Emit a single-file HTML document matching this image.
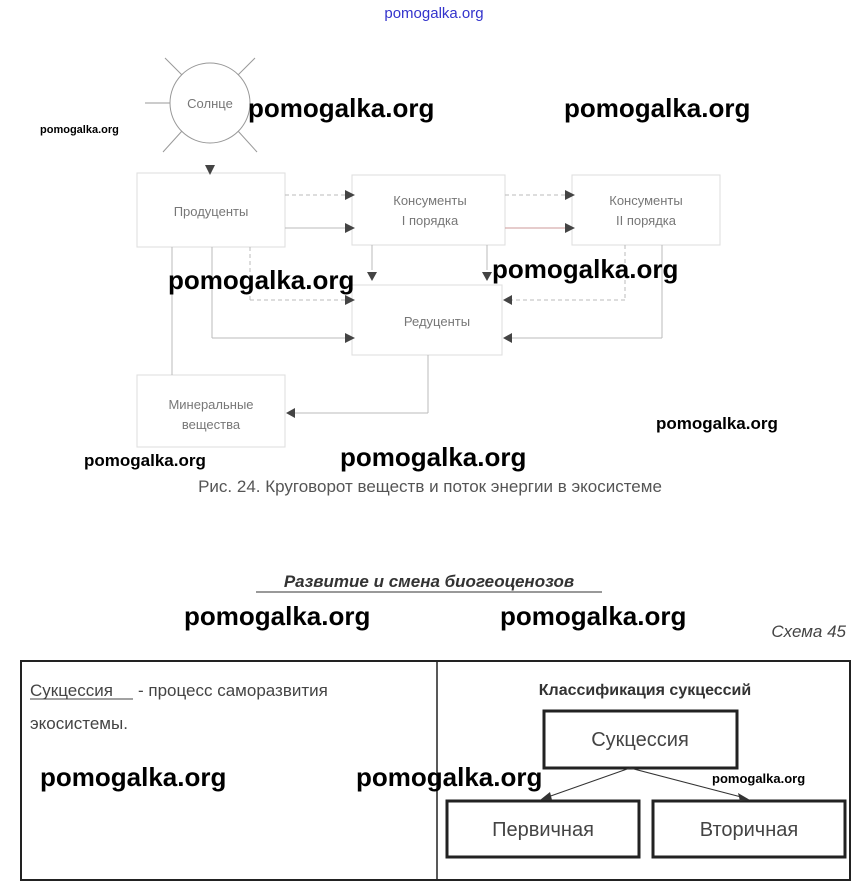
<!DOCTYPE html>
<html><head><meta charset="utf-8"><style>
body{margin:0;width:867px;height:889px;background:#fff;overflow:hidden;position:relative;font-family:"Liberation Sans",sans-serif}
.w{position:absolute;font-family:"Liberation Sans",sans-serif;font-weight:bold;color:#000;white-space:nowrap}
.b{font-size:26px}
.s{font-size:11px}
</style></head><body>
<svg width="867" height="889" style="position:absolute;left:0;top:0" font-family="Liberation Sans, sans-serif">
<g stroke="#999" stroke-width="1" fill="none">
<circle cx="210" cy="103" r="40"/>
<line x1="145" y1="103" x2="170" y2="103"/>
<line x1="165" y1="58" x2="182" y2="75"/><line x1="255" y1="58" x2="238" y2="75"/>
<line x1="163" y1="152" x2="182" y2="131"/><line x1="257" y1="152" x2="238" y2="131"/>
</g>
<g stroke="#ddd" fill="none">
<rect x="137" y="173" width="148" height="74"/>
<rect x="352" y="175" width="153" height="70"/>
<rect x="572" y="175" width="148" height="70"/>
<rect x="352" y="285" width="150" height="70"/>
<rect x="137" y="375" width="148" height="72"/>
</g>
<g stroke="#bbb" fill="none">
<line x1="285" y1="195" x2="345" y2="195" stroke-dasharray="4,3"/>
<line x1="285" y1="228" x2="345" y2="228"/>
<line x1="505" y1="195" x2="565" y2="195" stroke-dasharray="4,3"/>
<line x1="505" y1="228" x2="565" y2="228" stroke="#c99"/>
<line x1="250" y1="247" x2="250" y2="300" stroke-dasharray="4,3"/><line x1="250" y1="300" x2="345" y2="300" stroke-dasharray="4,3"/>
<line x1="212" y1="247" x2="212" y2="338"/><line x1="212" y1="338" x2="345" y2="338"/>
<line x1="172" y1="247" x2="172" y2="375"/>
<line x1="372" y1="245" x2="372" y2="270"/><line x1="487" y1="245" x2="487" y2="270"/>
<line x1="625" y1="245" x2="625" y2="300" stroke-dasharray="4,3"/><line x1="625" y1="300" x2="510" y2="300" stroke-dasharray="4,3"/>
<line x1="662" y1="245" x2="662" y2="338"/><line x1="662" y1="338" x2="510" y2="338"/>
<line x1="428" y1="355" x2="428" y2="413"/><line x1="428" y1="413" x2="293" y2="413"/>
</g>
<g fill="#444">
<polygon points="205,165 215,165 210,175"/>
<polygon points="345,190 355,195 345,200"/><polygon points="345,223 355,228 345,233"/>
<polygon points="565,190 575,195 565,200"/><polygon points="565,223 575,228 565,233"/>
<polygon points="345,295 355,300 345,305"/><polygon points="345,333 355,338 345,343"/>
<polygon points="367,272 377,272 372,281"/><polygon points="482,272 492,272 487,281"/>
<polygon points="512,295 503,300 512,305"/><polygon points="512,333 503,338 512,343"/>
<polygon points="295,408 286,413 295,418"/>
</g>
<g fill="#777" font-size="13" text-anchor="middle">
<text x="210" y="108">Солнце</text>
<text x="211" y="216">Продуценты</text>
<text x="430" y="205">Консументы</text><text x="430" y="225">I порядка</text>
<text x="646" y="205">Консументы</text><text x="646" y="225">II порядка</text>
<text x="437" y="326">Редуценты</text>
<text x="211" y="409">Минеральные</text><text x="211" y="429">вещества</text>
</g>
<text x="430" y="492" font-size="17" fill="#555" text-anchor="middle">Рис. 24. Круговорот веществ и поток энергии в экосистеме</text>
<text x="429" y="587" font-size="17" fill="#333" font-weight="bold" font-style="italic" text-anchor="middle">Развитие и смена биогеоценозов</text>
<line x1="256" y1="592" x2="602" y2="592" stroke="#333"/>
<text x="846" y="637" font-size="17" fill="#444" font-style="italic" text-anchor="end">Схема 45</text>
<rect x="21" y="661" width="829" height="219" fill="none" stroke="#222" stroke-width="2"/>
<line x1="437" y1="661" x2="437" y2="880" stroke="#222" stroke-width="1.5"/>
<text x="30" y="696" font-size="17" fill="#444">Сукцессия</text>
<text x="138" y="696" font-size="17" fill="#444">- процесс саморазвития</text>
<line x1="30" y1="699" x2="133" y2="699" stroke="#444"/>
<text x="30" y="729" font-size="17" fill="#444">экосистемы.</text>
<text x="645" y="695" font-size="16" fill="#333" font-weight="bold" text-anchor="middle">Классификация сукцессий</text>
<g fill="none" stroke="#222" stroke-width="3">
<rect x="544" y="711" width="193" height="57"/>
<rect x="447" y="801" width="192" height="56"/>
<rect x="653" y="801" width="192" height="56"/>
</g>
<g stroke="#333" stroke-width="1">
<line x1="630" y1="768" x2="545" y2="798"/><line x1="630" y1="768" x2="745" y2="798"/>
</g>
<polygon points="540,800 550,792 552,800" fill="#333"/><polygon points="750,800 738,793 740,801" fill="#333"/>
<g fill="#444" font-size="20" text-anchor="middle">
<text x="640" y="746">Сукцессия</text>
<text x="543" y="836">Первичная</text>
<text x="749" y="836">Вторичная</text>
</g>
<text x="434" y="18" font-size="15" fill="#33c" text-anchor="middle">pomogalka.org</text>
</svg>
<div class="w b" style="left:248px;top:93px">pomogalka.org</div>
<div class="w b" style="left:564px;top:93px">pomogalka.org</div>
<div class="w s" style="left:40px;top:124px">pomogalka.org</div>
<div class="w b" style="left:168px;top:265px">pomogalka.org</div>
<div class="w b" style="left:492px;top:254px">pomogalka.org</div>
<div class="w" style="left:656px;top:414px;font-size:17px">pomogalka.org</div>
<div class="w" style="left:84px;top:451px;font-size:17px">pomogalka.org</div>
<div class="w b" style="left:340px;top:442px">pomogalka.org</div>
<div class="w b" style="left:184px;top:601px">pomogalka.org</div>
<div class="w b" style="left:500px;top:601px">pomogalka.org</div>
<div class="w b" style="left:40px;top:762px">pomogalka.org</div>
<div class="w b" style="left:356px;top:762px">pomogalka.org</div>
<div class="w" style="left:712px;top:771px;font-size:13px">pomogalka.org</div>
</body></html>
